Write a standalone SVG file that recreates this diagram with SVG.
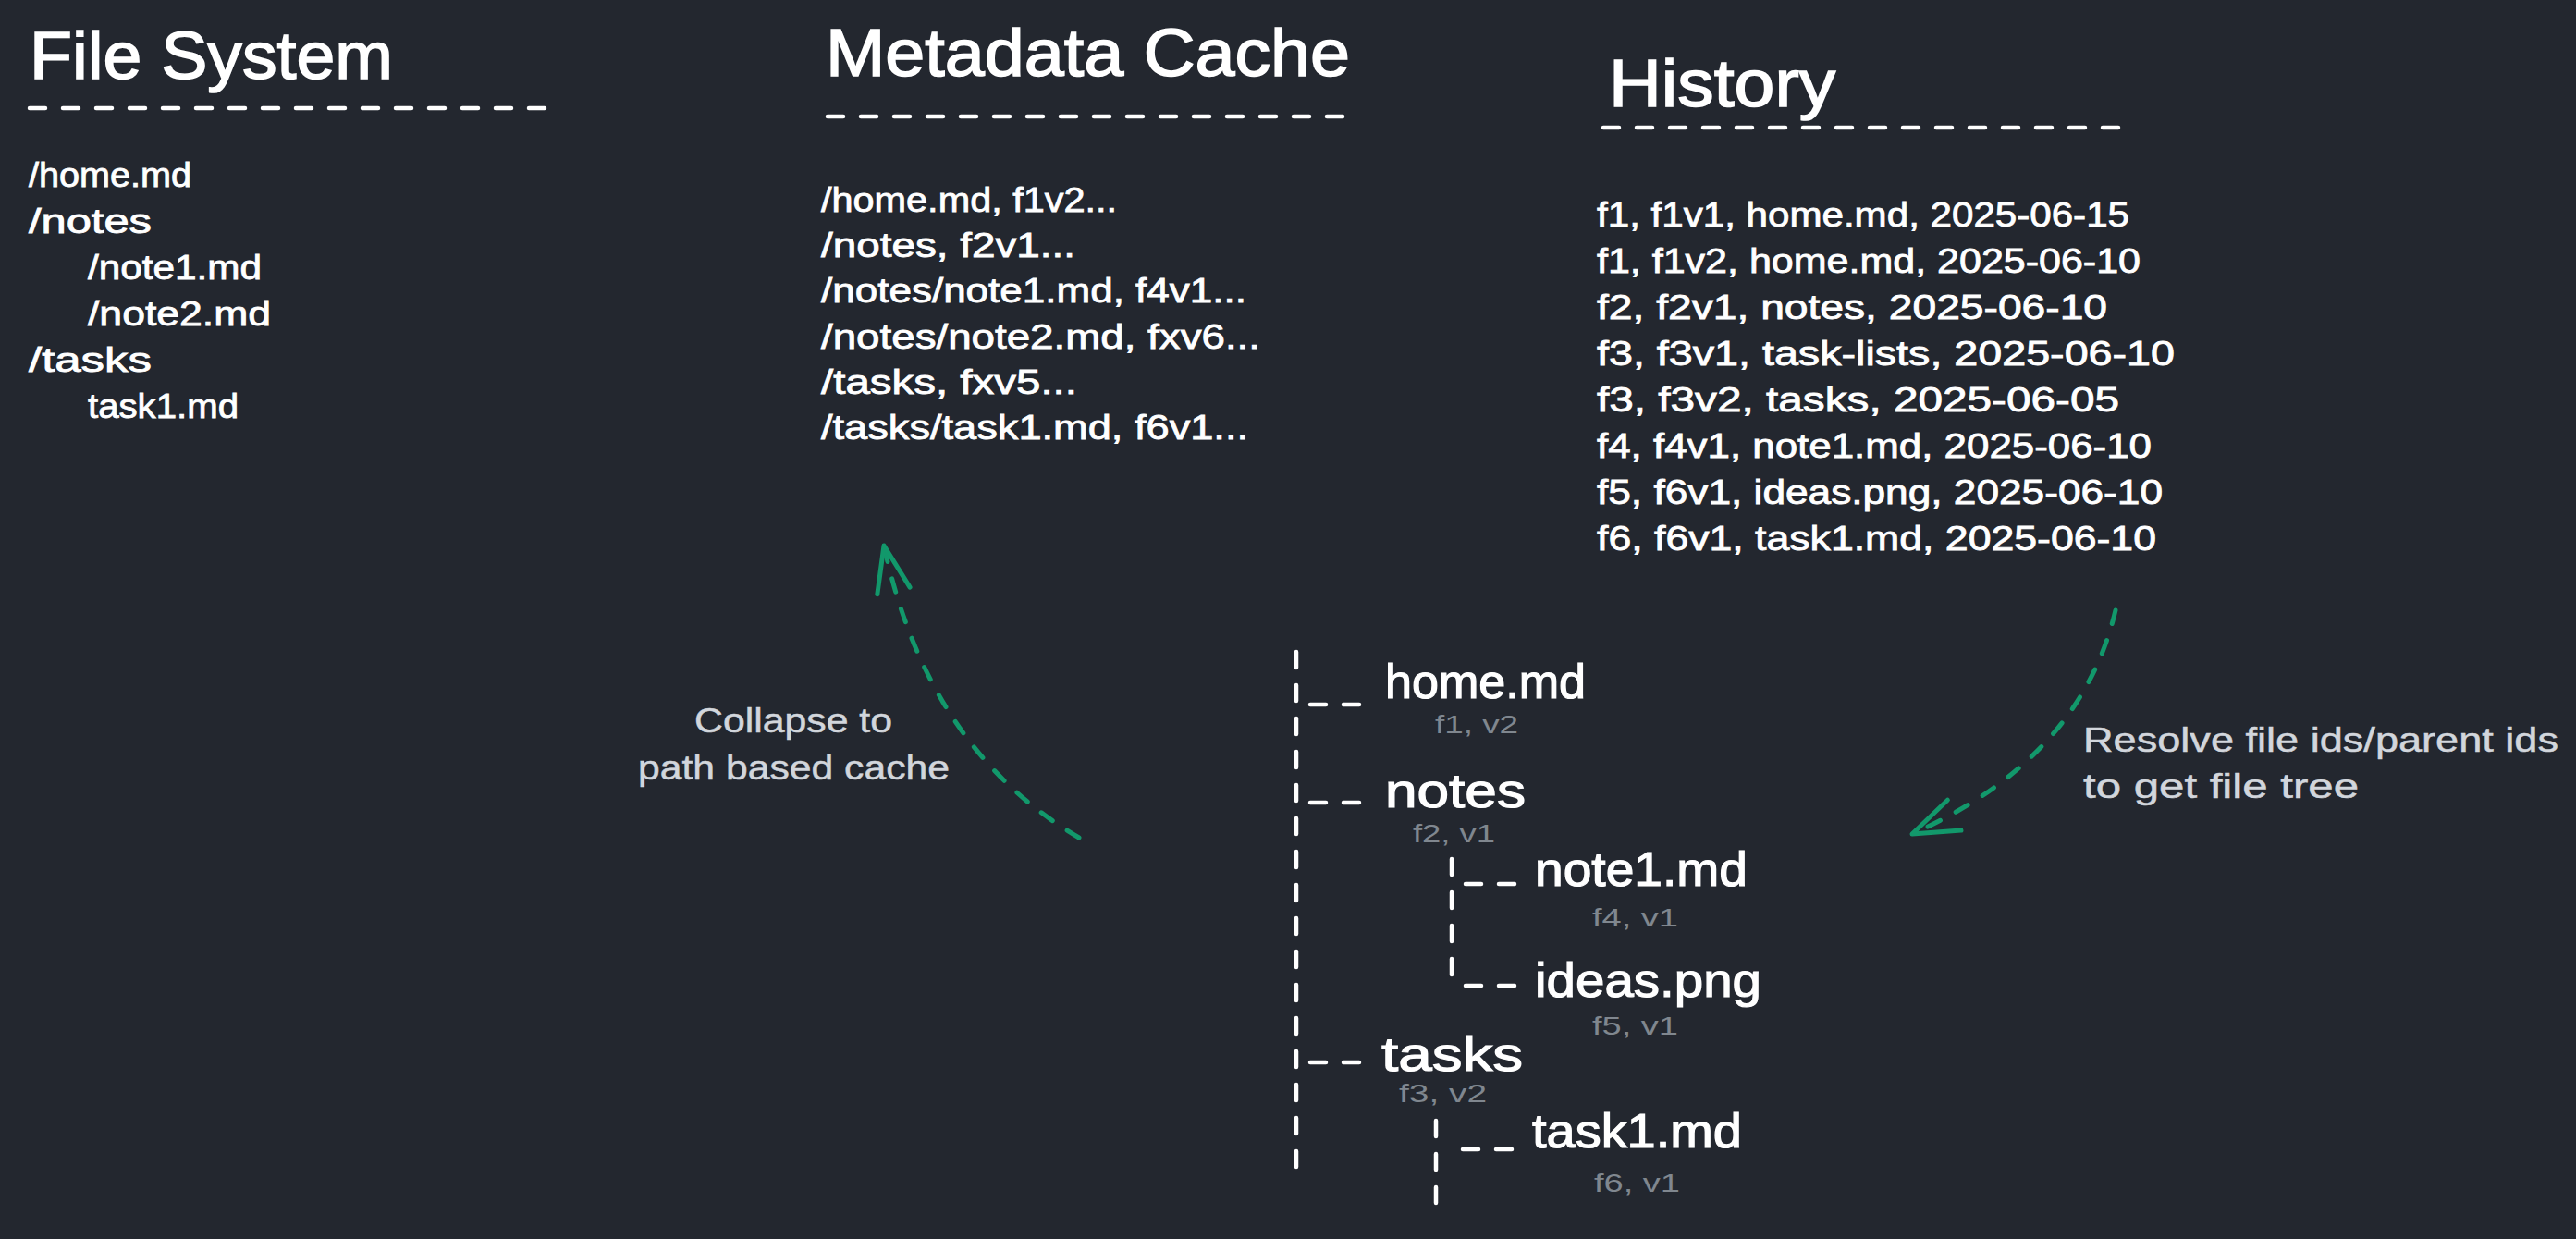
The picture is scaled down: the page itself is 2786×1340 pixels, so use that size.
<svg xmlns="http://www.w3.org/2000/svg" width="2786" height="1340" viewBox="0 0 2786 1340">
  <defs>
    <style>
      text { font-family: "Liberation Sans", Arial, sans-serif; }
      .title { font-size: 72px; fill: #ffffff; stroke: #ffffff; stroke-width: 1.6; }
      .item { font-size: 36px; fill: #ffffff; stroke: #ffffff; stroke-width: 0.8; }
      .tree { font-size: 52px; fill: #ffffff; stroke: #ffffff; stroke-width: 1.2; }
      .meta { font-size: 28px; fill: #80878f; }
      .note { font-size: 36px; fill: #d2d6dc; stroke: #d2d6dc; stroke-width: 0.5; }
      .dash { stroke: #ffffff; stroke-width: 4.5; stroke-linecap: round; stroke-dasharray: 17 19; fill: none; }
      .arrow { stroke: #12986b; stroke-width: 5; stroke-linecap: round; stroke-dasharray: 15 19; fill: none; }
    </style>
    <marker id="head" markerUnits="userSpaceOnUse" markerWidth="60" markerHeight="50" viewBox="-55 -25 60 50" refX="0" refY="0" orient="auto" overflow="visible">
      <path d="M-50,-18 L0,0 L-50,18" fill="none" stroke="#12986b" stroke-width="5" stroke-linecap="round" stroke-linejoin="round"/>
    </marker>
  </defs>

  <rect x="0" y="0" width="2786" height="1340" fill="#23272f"/>

  <g id="file-system">
    <text class="title" x="32" y="85" textLength="393" lengthAdjust="spacingAndGlyphs">File System</text>
    <path class="dash" d="M32,117 h557"/>
    <text class="item" x="31" y="202" textLength="176" lengthAdjust="spacingAndGlyphs">/home.md</text>
    <text class="item" x="31" y="252" textLength="133" lengthAdjust="spacingAndGlyphs">/notes</text>
    <text class="item" x="95" y="302" textLength="188" lengthAdjust="spacingAndGlyphs">/note1.md</text>
    <text class="item" x="95" y="352" textLength="198" lengthAdjust="spacingAndGlyphs">/note2.md</text>
    <text class="item" x="31" y="402" textLength="133" lengthAdjust="spacingAndGlyphs">/tasks</text>
    <text class="item" x="95" y="452" textLength="163" lengthAdjust="spacingAndGlyphs">task1.md</text>
  </g>

  <g id="metadata-cache">
    <text class="title" x="893" y="82" textLength="567" lengthAdjust="spacingAndGlyphs">Metadata Cache</text>
    <path class="dash" d="M895,126 h557"/>
    <text class="item" x="888" y="229" textLength="320" lengthAdjust="spacingAndGlyphs">/home.md, f1v2...</text>
    <text class="item" x="888" y="278" textLength="275" lengthAdjust="spacingAndGlyphs">/notes, f2v1...</text>
    <text class="item" x="888" y="327" textLength="460" lengthAdjust="spacingAndGlyphs">/notes/note1.md, f4v1...</text>
    <text class="item" x="888" y="377" textLength="475" lengthAdjust="spacingAndGlyphs">/notes/note2.md, fxv6...</text>
    <text class="item" x="888" y="426" textLength="277" lengthAdjust="spacingAndGlyphs">/tasks, fxv5...</text>
    <text class="item" x="888" y="475" textLength="462" lengthAdjust="spacingAndGlyphs">/tasks/task1.md, f6v1...</text>
  </g>

  <g id="history">
    <text class="title" x="1740" y="115" textLength="245" lengthAdjust="spacingAndGlyphs">History</text>
    <path class="dash" d="M1734,138 h557"/>
    <text class="item" x="1727" y="245" textLength="576" lengthAdjust="spacingAndGlyphs">f1, f1v1, home.md, 2025-06-15</text>
    <text class="item" x="1727" y="295" textLength="588" lengthAdjust="spacingAndGlyphs">f1, f1v2, home.md, 2025-06-10</text>
    <text class="item" x="1727" y="345" textLength="552" lengthAdjust="spacingAndGlyphs">f2, f2v1, notes, 2025-06-10</text>
    <text class="item" x="1727" y="395" textLength="625" lengthAdjust="spacingAndGlyphs">f3, f3v1, task-lists, 2025-06-10</text>
    <text class="item" x="1727" y="445" textLength="565" lengthAdjust="spacingAndGlyphs">f3, f3v2, tasks, 2025-06-05</text>
    <text class="item" x="1727" y="495" textLength="600" lengthAdjust="spacingAndGlyphs">f4, f4v1, note1.md, 2025-06-10</text>
    <text class="item" x="1727" y="545" textLength="612" lengthAdjust="spacingAndGlyphs">f5, f6v1, ideas.png, 2025-06-10</text>
    <text class="item" x="1727" y="595" textLength="605" lengthAdjust="spacingAndGlyphs">f6, f6v1, task1.md, 2025-06-10</text>
  </g>

  <g id="tree-branches">
    <path class="dash" d="M1402,705 v557"/>
    <path class="dash" d="M1570,929 v125"/>
    <path class="dash" d="M1553,1212 v89"/>
    <path class="dash" d="M1417,762 h53"/>
    <path class="dash" d="M1417,868 h53"/>
    <path class="dash" d="M1585,956 h53"/>
    <path class="dash" d="M1585,1066 h53"/>
    <path class="dash" d="M1417,1149 h53"/>
    <path class="dash" d="M1582,1243 h53"/>
  </g>

  <g id="node-home">
    <text class="tree" x="1498" y="755" textLength="217" lengthAdjust="spacingAndGlyphs">home.md</text>
    <text class="meta" x="1552" y="793" textLength="90" lengthAdjust="spacingAndGlyphs">f1, v2</text>
  </g>
  <g id="node-notes">
    <text class="tree" x="1498" y="873" textLength="152" lengthAdjust="spacingAndGlyphs">notes</text>
    <text class="meta" x="1528" y="911" textLength="89" lengthAdjust="spacingAndGlyphs">f2, v1</text>
  </g>
  <g id="node-note1">
    <text class="tree" x="1660" y="958" textLength="230" lengthAdjust="spacingAndGlyphs">note1.md</text>
    <text class="meta" x="1722" y="1002" textLength="93" lengthAdjust="spacingAndGlyphs">f4, v1</text>
  </g>
  <g id="node-ideas">
    <text class="tree" x="1660" y="1078" textLength="245" lengthAdjust="spacingAndGlyphs">ideas.png</text>
    <text class="meta" x="1722" y="1119" textLength="93" lengthAdjust="spacingAndGlyphs">f5, v1</text>
  </g>
  <g id="node-tasks">
    <text class="tree" x="1494" y="1158" textLength="153" lengthAdjust="spacingAndGlyphs">tasks</text>
    <text class="meta" x="1513" y="1192" textLength="95" lengthAdjust="spacingAndGlyphs">f3, v2</text>
  </g>
  <g id="node-task1">
    <text class="tree" x="1657" y="1241" textLength="227" lengthAdjust="spacingAndGlyphs">task1.md</text>
    <text class="meta" x="1724" y="1289" textLength="93" lengthAdjust="spacingAndGlyphs">f6, v1</text>
  </g>

  <g id="connectors">
    <path class="arrow" d="M1167,906 Q1003,810 956,590" marker-end="url(#head)"/>
    <path class="arrow" d="M2288,660 Q2250,821 2068,902" marker-end="url(#head)"/>
  </g>

  <g id="label-collapse">
    <text class="note" x="751" y="792" textLength="214" lengthAdjust="spacingAndGlyphs">Collapse to</text>
    <text class="note" x="690" y="843" textLength="337" lengthAdjust="spacingAndGlyphs">path based cache</text>
  </g>
  <g id="label-resolve">
    <text class="note" x="2253" y="813" textLength="514" lengthAdjust="spacingAndGlyphs">Resolve file ids/parent ids</text>
    <text class="note" x="2253" y="863" textLength="298" lengthAdjust="spacingAndGlyphs">to get file tree</text>
  </g>
</svg>
